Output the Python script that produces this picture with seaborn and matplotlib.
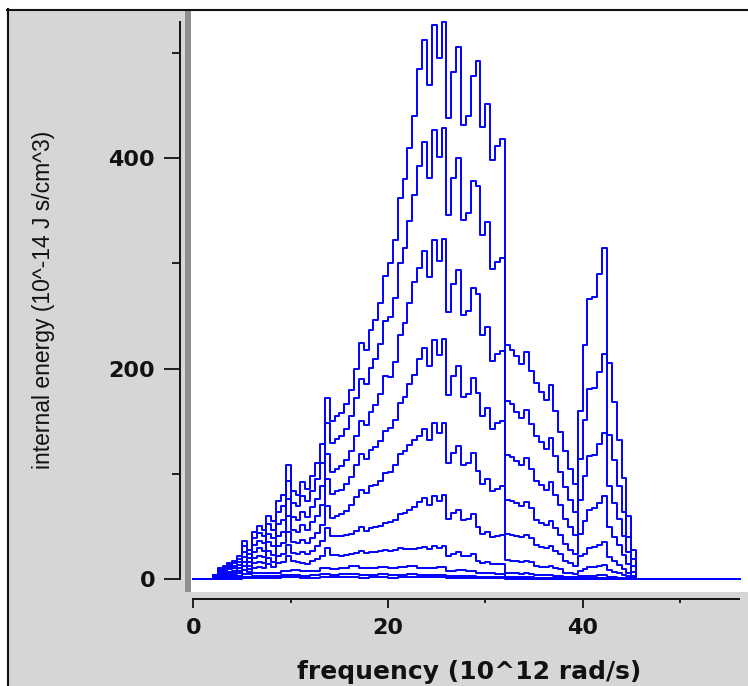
import numpy as np
import pandas as pd
import matplotlib
matplotlib.use("Agg")
import matplotlib.pyplot as plt
from matplotlib import font_manager
from matplotlib.patches import Rectangle
from matplotlib.lines import Line2D
import seaborn as sns

# ---------------- data ----------------
freq_fine = np.arange(2.0, 45.25, 0.5)     # 2.0 ... 45.0  (87 bins)
freq_coarse = np.arange(2.0, 45.5, 1.0)    # 2 ... 45      (44 bins)
freq_cut = 45.5                            # all curves fall to zero here
freq_last = 56.2                           # zero line continues to here

c1 = [4, 10, 12, 15, 17, 22,
      36, 28, 45, 50, 47, 60,
      55, 74, 80, 108, 84, 80,
      92, 86, 98, 110, 128, 172,
      150, 155, 158, 166, 180, 200,
      224, 218, 237, 246, 262, 288,
      300, 322, 362, 380, 410, 440,
      485, 512, 470, 527, 495, 530,
      438, 482, 506, 432, 440, 478,
      492, 430, 452, 398, 412, 418,
      222, 218, 212, 204, 216, 198,
      186, 178, 170, 184, 160, 140,
      122, 105, 90, 160,
      222, 266, 268, 290, 315,
      205, 168, 132, 96, 60, 28]

c2 = [3.5, 8.8, 10.6, 13.2, 15, 19.4,
      31, 24, 39, 43.5, 41, 52,
      47, 64, 69, 93, 72, 69,
      79, 74, 84, 95, 110, 148,
      129, 133, 136, 143, 155, 172,
      190, 185, 201, 209, 223, 245,
      249, 267, 300, 315, 340, 365,
      393, 415, 381, 427, 401, 429,
      346, 381, 400, 341, 348, 378,
      374, 327, 339, 295, 301, 305,
      169, 166, 159, 153, 161, 147,
      136, 130, 124, 134, 117, 102,
      87, 75, 64, 114,
      151, 181, 182, 197, 214,
      137, 113, 88, 64, 40, 19]

c3 = [3, 7.4, 8.9, 11, 12.6, 16.3,
      26, 20, 32, 36, 34, 43,
      38.5, 52, 56, 76, 59, 56,
      63.5, 59, 68, 76, 88, 119,
      102, 105, 107, 113, 122, 136,
      150, 146, 159, 165, 176, 193,
      192, 206, 232, 243, 262, 282,
      296, 312, 287, 322, 302, 323,
      254, 280, 294, 251, 255, 277,
      271, 232, 240, 207, 214, 217,
      118, 116, 112, 108, 115, 105,
      93, 89, 85, 92, 80, 70,
      57, 49, 42, 75,
      98, 117, 118, 128, 139,
      88, 72, 57, 41, 26, 12]

c4 = [2.4, 6, 7.2, 9, 10.2, 13.2,
      21, 16, 26, 29, 27, 35,
      31, 41, 45, 60, 47, 45,
      51, 47, 54, 60, 70, 95,
      81, 84, 85, 90, 97, 108,
      119, 114, 123, 125, 131, 141,
      144, 151, 167, 173, 185, 194,
      209, 220, 202, 227, 213, 228,
      175, 193, 202, 173, 176, 191,
      177, 155, 163, 143, 148, 150,
      75, 74, 72, 69, 73, 67,
      56, 53, 51, 55, 48, 42,
      33, 28, 24, 43,
      55, 66, 67, 72, 79,
      49, 40, 32, 23, 14, 6.7]

c5 = [1.8, 4.6, 5.5, 6.9, 7.8, 10.1,
      15.8, 12.3, 19.8, 22, 20.7, 26.4,
      23, 31, 34, 45, 35, 34,
      37, 34, 39, 44, 51, 69,
      58, 60, 62, 65, 70, 78,
      85, 82, 88, 89, 93, 101,
      102, 108, 119, 122, 127, 132,
      136, 143, 132, 148, 139, 148,
      110, 120, 126, 108, 110, 120,
      103, 90, 95, 84, 86, 88,
      43, 42, 41, 40, 42, 39,
      32, 30, 29, 31, 27, 24,
      17, 15, 12.6, 22,
      24, 29, 30, 32, 35,
      20.5, 16.8, 13.2, 9.6, 6, 2.8]

c6 = [1.4, 3.5, 4.2, 5.3, 6, 7.7,
      11.9, 9.2, 14.9, 16.5, 15.5, 19.8,
      16.5, 22, 24, 32, 25, 24,
      26, 24, 27, 31, 36, 48,
      40.5, 41, 41, 41.5, 43, 46,
      49, 46, 48.6, 49, 50, 53,
      54, 56, 61.5, 62.7, 65.6, 68.2,
      73, 77, 70, 79, 74, 80,
      57, 63, 66, 56, 57, 62,
      49, 43, 45, 40, 41, 42,
      17.8, 17.4, 17, 16.3, 17.3, 15.8,
      12.1, 11.6, 11.1, 12, 10.4, 9.1,
      6.1, 5.3, 4.5, 8,
      9.3, 11.2, 11.3, 12.2, 13.2,
      8.2, 6.7, 5.3, 3.8, 2.4, 1.1]

c7 = [1, 2.5, 3, 3.8, 4.3, 5.5,
      8.3, 6.4, 10.4, 11.5, 10.8, 13.8,
      11, 14.8, 16, 21.6, 16.8, 16,
      15.6, 14.6, 16.7, 18.7, 21.8, 29.2,
      22.5, 22.5, 22.1, 22.4, 23.4, 25,
      26.9, 25, 26, 25.8, 26.2, 27.4,
      27, 27.4, 29, 28.5, 28.7, 28.6,
      29.1, 30.7, 28.2, 31.6, 29.7, 31.8,
      21.9, 24.1, 25.3, 21.6, 22, 23.9,
      17.2, 15, 15.8, 13.9, 14.4, 14.6,
      5.6, 5.5, 5.3, 5.1, 5.4, 5,
      3.7, 3.6, 3.4, 3.7, 3.2, 2.8,
      1.8, 1.6, 1.4, 2.4,
      2.7, 3.2, 3.2, 3.5, 3.8,
      2.1, 1.7, 1.3, 1, 0.6, 0.3]

c8 = [0.6, 1.7, 2.4, 4.3, 5.4, 5.6, 5.5, 8, 8.4, 7.4, 7.8, 10.2, 9.9, 10.4,
      11.9, 10.1, 10.7, 11.8, 10.5, 11.5, 12.3, 10.7, 10.3, 10.9, 7.4, 8.6,
      7.5, 5.9, 5.4, 4.9, 2, 1.9, 1.9, 1.3, 1.2, 1.1, 0.6, 0.45, 0.9, 1.1,
      1.3, 0.5, 0.3, 0.1]

c9 = [0.3, 0.8, 1.2, 2.2, 2.7, 2.8, 2.8, 4, 4.2, 3.2, 3.4, 4.5, 4.1, 4.3,
      4.9, 3.8, 4, 4.5, 3.3, 4, 4.5, 3.9, 3.8, 4, 2.6, 3, 2.6, 2, 1.8, 1.6,
      0.7, 0.6, 0.6, 0.4, 0.3, 0.3, 0.2, 0.2, 0.2, 0.3, 0.3, 0.2, 0.1, 0.05]

c10 = [0.1, 0.3, 0.4, 0.7, 0.9, 0.9, 0.9, 1.4, 1.4, 1.1, 1.2, 1.5, 1.4, 1.4,
       1.6, 1.3, 1.4, 1.6, 1.2, 1.4, 1.6, 1.5, 1.4, 1.5, 0.9, 1, 0.9, 0.7,
       0.7, 0.6, 0.2, 0.2, 0.2, 0.2, 0.2, 0.1, 0.1, 0.1, 0.2, 0.3, 0.3, 0.2,
       0.1, 0.05]

x_major = [0, 20, 40]
x_minor = [10, 30, 50]
y_major = [0, 200, 400]
y_minor = [100, 300, 500]
x_ticklabels = ["0", "20", "40"]
y_ticklabels = ["0", "200", "400"]
x_title = "frequency (10^12 rad/s)"
y_title = "internal energy (10^-14 J s/cm^3)"

# ---------------- long table ----------------
series = [("c1", freq_fine, c1), ("c2", freq_fine, c2), ("c3", freq_fine, c3),
          ("c4", freq_fine, c4), ("c5", freq_fine, c5), ("c6", freq_fine, c6),
          ("c7", freq_fine, c7), ("c8", freq_coarse, c8),
          ("c9", freq_coarse, c9), ("c10", freq_coarse, c10)]
rows = []
for name, fr, vals in series:
    assert len(fr) == len(vals), name
    xs = [0.0] + list(fr) + [freq_cut, freq_last]
    ys = [0.0] + list(vals) + [0.0, 0.0]
    for k, (x, y) in enumerate(zip(xs, ys)):
        rows.append({"curve": name, "order": k, "freq": x, "energy": y})
df = pd.DataFrame(rows)

# ---------------- figure ----------------
W, H = 748, 686
fig = plt.figure(figsize=(W / 100, H / 100), dpi=100)
fig.patch.set_facecolor("#d6d6d6")

def fx(px):
    return px / W

def fy(py):
    return 1 - py / H

# white margins + black frame lines (top and left)
fig.patches.append(Rectangle((0, fy(9.3)), 1, 9.3 / H, transform=fig.transFigure,
                             facecolor="white", edgecolor="none", zorder=-5))
fig.patches.append(Rectangle((0, 0), fx(6.7), 1, transform=fig.transFigure,
                             facecolor="white", edgecolor="none", zorder=-5))
fig.lines.append(Line2D([fx(6.7), 1], [fy(10.3), fy(10.3)], transform=fig.transFigure,
                        color="#111111", lw=1.5, zorder=5))
fig.lines.append(Line2D([fx(7.7), fx(7.7)], [0, fy(9.3)], transform=fig.transFigure,
                        color="#111111", lw=1.5, zorder=5))
# grey bar on the left side of the plot area
fig.patches.append(Rectangle((fx(185), fy(592)), 6 / W, (592 - 11) / H,
                             transform=fig.transFigure, facecolor="#8f8f8f",
                             edgecolor="none", zorder=2))

ax = fig.add_axes([fx(191), fy(592), (W - 191) / W, (592 - 11) / H])
ax.set_facecolor("white")

sns.lineplot(data=df, x="freq", y="energy", units="curve", estimator=None,
             sort=False, color="#0000ff", linewidth=1.4, drawstyle="steps-post",
             legend=False, ax=ax)

ax.set_xlim(-0.25, 57.0)
ax.set_ylim(-12.4, 540)
ax.set_xlabel("")
ax.set_ylabel("")
ax.grid(False)

for s in ("top", "right"):
    ax.spines[s].set_visible(False)
ax.spines["left"].set_position(("outward", 11 * 0.72))
ax.spines["bottom"].set_position(("outward", 7 * 0.72))
ax.spines["left"].set_bounds(0, 530)
ax.spines["bottom"].set_bounds(0, 56.1)
for s in ("left", "bottom"):
    ax.spines[s].set_linewidth(1.4)
    ax.spines[s].set_color("#111111")

ax.set_xticks(x_major)
ax.set_xticks(x_minor, minor=True)
ax.set_yticks(y_major)
ax.set_yticks(y_minor, minor=True)
tick_font = dict(family="DejaVu Sans", weight="bold", size=16)
ax.set_xticklabels(x_ticklabels, fontdict=tick_font, color="#111111")
ax.set_yticklabels(y_ticklabels, fontdict=tick_font, color="#111111")
ax.tick_params(axis="y", which="major", length=11.5, width=1.3, direction="out",
               pad=6.5, color="#111111")
ax.tick_params(axis="y", which="minor", length=5.8, width=1.3, direction="out",
               color="#111111")
ax.tick_params(axis="x", which="major", length=6.5, width=1.3, direction="out",
               pad=7, color="#111111")
ax.tick_params(axis="x", which="minor", length=3.2, width=1.3, direction="out",
               color="#111111")

names = {f.name for f in font_manager.fontManager.ttflist}
if "Liberation Sans Narrow" in names:
    yfam, ysize = "Liberation Sans Narrow", 19
else:
    yfam, ysize = "Liberation Sans", 16.5

fig.text(fx(469), fy(672), x_title, ha="center", va="center",
         family="DejaVu Sans", weight="bold", size=18, color="#111111")
fig.text(fx(44), fy(300), y_title, ha="center", va="center", rotation=90,
         family=yfam, size=ysize, color="#111111")

fig.savefig("out.png", dpi=100, facecolor=fig.get_facecolor())
